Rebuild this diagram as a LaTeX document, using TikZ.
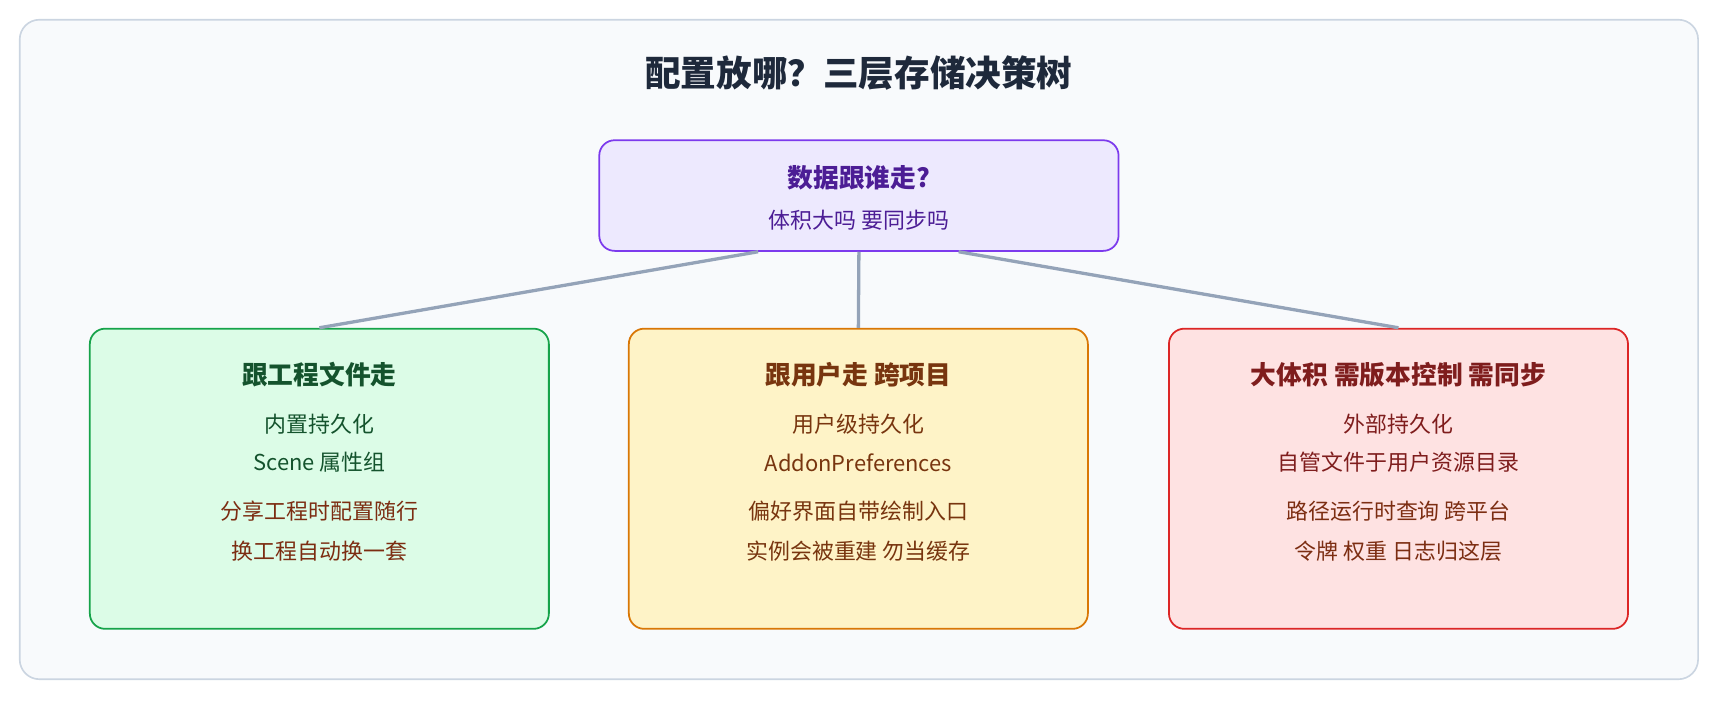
\documentclass[tikz,border=0pt]{standalone}
\usepackage{fontspec}
\setmainfont{Noto Sans CJK SC}
\usetikzlibrary{calc}
\definecolor{bgc}{HTML}{F8FAFC}\definecolor{bgs}{HTML}{CBD5E1}
\definecolor{lnc}{HTML}{94A3B8}\definecolor{ttl}{HTML}{1E293B}
\definecolor{pf}{HTML}{EDE9FE}\definecolor{ps}{HTML}{7C3AED}\definecolor{pt}{HTML}{4C1D95}
\definecolor{gf}{HTML}{DCFCE7}\definecolor{gs}{HTML}{16A34A}\definecolor{gt}{HTML}{14532D}
\definecolor{yf}{HTML}{FEF3C7}\definecolor{ys}{HTML}{D97706}\definecolor{yt}{HTML}{78350F}
\definecolor{rf}{HTML}{FEE2E2}\definecolor{rs}{HTML}{DC2626}\definecolor{rt}{HTML}{7F1D1D}
\definecolor{bt}{HTML}{7C2D12}
\begin{document}
\begin{tikzpicture}[x=1pt,y=-1pt,
 box/.style={draw,line width=1.6pt,rounded corners=14pt,inner sep=0pt,minimum width=419pt,minimum height=274pt},
 ttlf/.style={font=\fontsize{23.5}{26}\selectfont\bfseries},
 txt/.style={font=\fontsize{20}{24}\selectfont},
 conn/.style={draw=lnc,line width=3pt}]
\useasboundingbox (0,0) rectangle (1570,639);
\draw[fill=bgc,draw=bgs,line width=1.5pt,rounded corners=18pt] (18,18) rectangle (1550,620);
\node[text=ttl,font=\fontsize{32.5}{36}\selectfont\bfseries] (title) at (784,67) {配置放哪？三层存储决策树};
\node[box,fill=pf,draw=ps,minimum width=474pt,minimum height=101pt] (root) at (784,178.5) {};
\node[ttlf,text=pt] (rt1) at (784,162) {数据跟谁走?};
\node[txt,text=pt] (rt2) at (784,201) {体积大吗 要同步吗};
\node[box,fill=gf,draw=gs] (lb) at (291.5,437) {};
\node[box,fill=yf,draw=ys] (mb) at (783.5,437) {};
\node[box,fill=rf,draw=rs] (rb) at (1276.5,437) {};
\coordinate (r1) at ($(root.south)+(-92,0)$);
\coordinate (r3) at ($(root.south)+(91,0)$);
\draw[conn] (r1) -- (lb.north);
\draw[conn] (root.south) -- (mb.north);
\draw[conn] (r3) -- (rb.north);
\node[ttlf,text=gt] (l0) at (291.5,342) {跟工程文件走};
\node[txt,text=gt] (l1) at (291.5,387) {内置持久化};
\node[txt,text=gt] (l2) at (291.5,422) {Scene 属性组};
\node[txt,text=bt] (l3) at (291.5,467) {分享工程时配置随行};
\node[txt,text=bt] (l4) at (291.5,503) {换工程自动换一套};
\node[ttlf,text=yt] (m0) at (783.5,342) {跟用户走 跨项目};
\node[txt,text=yt] (m1) at (783.5,387) {用户级持久化};
\node[txt,text=yt] (m2) at (783.5,422) {AddonPreferences};
\node[txt,text=yt] (m3) at (783.5,467) {偏好界面自带绘制入口};
\node[txt,text=yt] (m4) at (783.5,503) {实例会被重建 勿当缓存};
\node[ttlf,text=rt] (q0) at (1276.5,342) {大体积 需版本控制 需同步};
\node[txt,text=rt] (q1) at (1276.5,387) {外部持久化};
\node[txt,text=rt] (q2) at (1276.5,422) {自管文件于用户资源目录};
\node[txt,text=bt] (q3) at (1276.5,467) {路径运行时查询 跨平台};
\node[txt,text=bt] (q4) at (1276.5,503) {令牌 权重 日志归这层};
\end{tikzpicture}
\end{document}
